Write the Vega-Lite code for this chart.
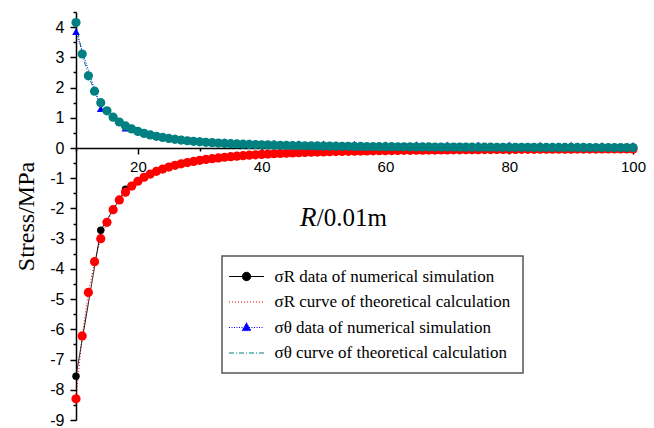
{
  "$schema": "https://vega.github.io/schema/vega-lite/v6.json",
  "width": 557,
  "height": 408,
  "autosize": "none",
  "padding": {"left": 76, "top": 12, "right": 21, "bottom": 8},
  "background": "white",
  "config": {"view": {"stroke": null}, "axis": {"labelOverlap": false}},
  "data": {"values": [
    {"s":"R_theo","x":10,"y":-8.3},{"s":"R_theo","x":11,"y":-6.22},{"s":"R_theo","x":12,"y":-4.78},{"s":"R_theo","x":13,"y":-3.76},{"s":"R_theo","x":14,"y":-3.0},{"s":"R_theo","x":15,"y":-2.46},{"s":"R_theo","x":16,"y":-2.04},{"s":"R_theo","x":17,"y":-1.72},{"s":"R_theo","x":18,"y":-1.46},{"s":"R_theo","x":19,"y":-1.26},{"s":"R_theo","x":20,"y":-1.1},
    {"s":"R_theo","x":21,"y":-0.968},{"s":"R_theo","x":22,"y":-0.862},{"s":"R_theo","x":23,"y":-0.772},{"s":"R_theo","x":24,"y":-0.696},{"s":"R_theo","x":25,"y":-0.63},{"s":"R_theo","x":26,"y":-0.573},{"s":"R_theo","x":27,"y":-0.524},{"s":"R_theo","x":28,"y":-0.481},{"s":"R_theo","x":29,"y":-0.443},{"s":"R_theo","x":30,"y":-0.409},
    {"s":"R_theo","x":31,"y":-0.379},{"s":"R_theo","x":32,"y":-0.352},{"s":"R_theo","x":33,"y":-0.328},{"s":"R_theo","x":34,"y":-0.306},{"s":"R_theo","x":35,"y":-0.286},{"s":"R_theo","x":36,"y":-0.269},{"s":"R_theo","x":37,"y":-0.253},{"s":"R_theo","x":38,"y":-0.238},{"s":"R_theo","x":39,"y":-0.224},{"s":"R_theo","x":40,"y":-0.212},
    {"s":"R_theo","x":41,"y":-0.2},{"s":"R_theo","x":42,"y":-0.19},{"s":"R_theo","x":43,"y":-0.18},{"s":"R_theo","x":44,"y":-0.171},{"s":"R_theo","x":45,"y":-0.163},{"s":"R_theo","x":46,"y":-0.155},{"s":"R_theo","x":47,"y":-0.148},{"s":"R_theo","x":48,"y":-0.141},{"s":"R_theo","x":49,"y":-0.135},{"s":"R_theo","x":50,"y":-0.129},
    {"s":"R_theo","x":51,"y":-0.124},{"s":"R_theo","x":52,"y":-0.119},{"s":"R_theo","x":53,"y":-0.114},{"s":"R_theo","x":54,"y":-0.109},{"s":"R_theo","x":55,"y":-0.105},{"s":"R_theo","x":56,"y":-0.101},{"s":"R_theo","x":57,"y":-0.097},{"s":"R_theo","x":58,"y":-0.094},{"s":"R_theo","x":59,"y":-0.09},{"s":"R_theo","x":60,"y":-0.087},
    {"s":"R_theo","x":61,"y":-0.084},{"s":"R_theo","x":62,"y":-0.081},{"s":"R_theo","x":63,"y":-0.078},{"s":"R_theo","x":64,"y":-0.076},{"s":"R_theo","x":65,"y":-0.073},{"s":"R_theo","x":66,"y":-0.071},{"s":"R_theo","x":67,"y":-0.069},{"s":"R_theo","x":68,"y":-0.067},{"s":"R_theo","x":69,"y":-0.065},{"s":"R_theo","x":70,"y":-0.063},
    {"s":"R_theo","x":71,"y":-0.061},{"s":"R_theo","x":72,"y":-0.059},{"s":"R_theo","x":73,"y":-0.057},{"s":"R_theo","x":74,"y":-0.056},{"s":"R_theo","x":75,"y":-0.054},{"s":"R_theo","x":76,"y":-0.053},{"s":"R_theo","x":77,"y":-0.051},{"s":"R_theo","x":78,"y":-0.05},{"s":"R_theo","x":79,"y":-0.048},{"s":"R_theo","x":80,"y":-0.047},
    {"s":"R_theo","x":81,"y":-0.046},{"s":"R_theo","x":82,"y":-0.045},{"s":"R_theo","x":83,"y":-0.044},{"s":"R_theo","x":84,"y":-0.043},{"s":"R_theo","x":85,"y":-0.041},{"s":"R_theo","x":86,"y":-0.04},{"s":"R_theo","x":87,"y":-0.039},{"s":"R_theo","x":88,"y":-0.039},{"s":"R_theo","x":89,"y":-0.038},{"s":"R_theo","x":90,"y":-0.037},
    {"s":"R_theo","x":91,"y":-0.036},{"s":"R_theo","x":92,"y":-0.035},{"s":"R_theo","x":93,"y":-0.034},{"s":"R_theo","x":94,"y":-0.034},{"s":"R_theo","x":95,"y":-0.033},{"s":"R_theo","x":96,"y":-0.032},{"s":"R_theo","x":97,"y":-0.031},{"s":"R_theo","x":98,"y":-0.031},{"s":"R_theo","x":99,"y":-0.03},{"s":"R_theo","x":100,"y":-0.029},
    {"s":"T_theo","x":10,"y":4.15},{"s":"T_theo","x":11,"y":3.11},{"s":"T_theo","x":12,"y":2.39},{"s":"T_theo","x":13,"y":1.88},{"s":"T_theo","x":14,"y":1.5},{"s":"T_theo","x":15,"y":1.23},{"s":"T_theo","x":16,"y":1.02},{"s":"T_theo","x":17,"y":0.86},{"s":"T_theo","x":18,"y":0.73},{"s":"T_theo","x":19,"y":0.63},{"s":"T_theo","x":20,"y":0.55},
    {"s":"T_theo","x":21,"y":0.484},{"s":"T_theo","x":22,"y":0.431},{"s":"T_theo","x":23,"y":0.386},{"s":"T_theo","x":24,"y":0.348},{"s":"T_theo","x":25,"y":0.315},{"s":"T_theo","x":26,"y":0.287},{"s":"T_theo","x":27,"y":0.262},{"s":"T_theo","x":28,"y":0.24},{"s":"T_theo","x":29,"y":0.221},{"s":"T_theo","x":30,"y":0.204},
    {"s":"T_theo","x":31,"y":0.189},{"s":"T_theo","x":32,"y":0.176},{"s":"T_theo","x":33,"y":0.164},{"s":"T_theo","x":34,"y":0.153},{"s":"T_theo","x":35,"y":0.143},{"s":"T_theo","x":36,"y":0.134},{"s":"T_theo","x":37,"y":0.126},{"s":"T_theo","x":38,"y":0.119},{"s":"T_theo","x":39,"y":0.112},{"s":"T_theo","x":40,"y":0.106},
    {"s":"T_theo","x":41,"y":0.1},{"s":"T_theo","x":42,"y":0.095},{"s":"T_theo","x":43,"y":0.09},{"s":"T_theo","x":44,"y":0.086},{"s":"T_theo","x":45,"y":0.081},{"s":"T_theo","x":46,"y":0.078},{"s":"T_theo","x":47,"y":0.074},{"s":"T_theo","x":48,"y":0.071},{"s":"T_theo","x":49,"y":0.068},{"s":"T_theo","x":50,"y":0.065},
    {"s":"T_theo","x":51,"y":0.062},{"s":"T_theo","x":52,"y":0.059},{"s":"T_theo","x":53,"y":0.057},{"s":"T_theo","x":54,"y":0.055},{"s":"T_theo","x":55,"y":0.053},{"s":"T_theo","x":56,"y":0.051},{"s":"T_theo","x":57,"y":0.049},{"s":"T_theo","x":58,"y":0.047},{"s":"T_theo","x":59,"y":0.045},{"s":"T_theo","x":60,"y":0.044},
    {"s":"T_theo","x":61,"y":0.042},{"s":"T_theo","x":62,"y":0.041},{"s":"T_theo","x":63,"y":0.039},{"s":"T_theo","x":64,"y":0.038},{"s":"T_theo","x":65,"y":0.037},{"s":"T_theo","x":66,"y":0.035},{"s":"T_theo","x":67,"y":0.034},{"s":"T_theo","x":68,"y":0.033},{"s":"T_theo","x":69,"y":0.032},{"s":"T_theo","x":70,"y":0.031},
    {"s":"T_theo","x":71,"y":0.03},{"s":"T_theo","x":72,"y":0.029},{"s":"T_theo","x":73,"y":0.029},{"s":"T_theo","x":74,"y":0.028},{"s":"T_theo","x":75,"y":0.027},{"s":"T_theo","x":76,"y":0.026},{"s":"T_theo","x":77,"y":0.026},{"s":"T_theo","x":78,"y":0.025},{"s":"T_theo","x":79,"y":0.024},{"s":"T_theo","x":80,"y":0.024},
    {"s":"T_theo","x":81,"y":0.023},{"s":"T_theo","x":82,"y":0.022},{"s":"T_theo","x":83,"y":0.022},{"s":"T_theo","x":84,"y":0.021},{"s":"T_theo","x":85,"y":0.021},{"s":"T_theo","x":86,"y":0.02},{"s":"T_theo","x":87,"y":0.02},{"s":"T_theo","x":88,"y":0.019},{"s":"T_theo","x":89,"y":0.019},{"s":"T_theo","x":90,"y":0.018},
    {"s":"T_theo","x":91,"y":0.018},{"s":"T_theo","x":92,"y":0.018},{"s":"T_theo","x":93,"y":0.017},{"s":"T_theo","x":94,"y":0.017},{"s":"T_theo","x":95,"y":0.016},{"s":"T_theo","x":96,"y":0.016},{"s":"T_theo","x":97,"y":0.016},{"s":"T_theo","x":98,"y":0.015},{"s":"T_theo","x":99,"y":0.015},{"s":"T_theo","x":100,"y":0.015},
    {"s":"R_num","x":10,"y":-7.55},{"s":"R_num","x":14,"y":-2.72},{"s":"R_num","x":18,"y":-1.36},{"s":"R_num","x":22,"y":-0.85},{"s":"R_num","x":26,"y":-0.57},{"s":"R_num","x":30,"y":-0.41},{"s":"R_num","x":34,"y":-0.31},{"s":"R_num","x":38,"y":-0.24},{"s":"R_num","x":42,"y":-0.19},{"s":"R_num","x":46,"y":-0.155},{"s":"R_num","x":50,"y":-0.13},
    {"s":"R_num","x":55,"y":-0.105},{"s":"R_num","x":60,"y":-0.087},{"s":"R_num","x":65,"y":-0.073},{"s":"R_num","x":70,"y":-0.063},{"s":"R_num","x":75,"y":-0.054},{"s":"R_num","x":80,"y":-0.047},{"s":"R_num","x":85,"y":-0.041},{"s":"R_num","x":90,"y":-0.037},{"s":"R_num","x":95,"y":-0.033},{"s":"R_num","x":100,"y":-0.029},
    {"s":"T_num","x":10,"y":3.85},{"s":"T_num","x":14,"y":1.3},{"s":"T_num","x":18,"y":0.66},{"s":"T_num","x":22,"y":0.47},{"s":"T_num","x":26,"y":0.34},{"s":"T_num","x":30,"y":0.26},{"s":"T_num","x":34,"y":0.21},{"s":"T_num","x":38,"y":0.18},{"s":"T_num","x":42,"y":0.16},{"s":"T_num","x":46,"y":0.145},{"s":"T_num","x":50,"y":0.135},
    {"s":"T_num","x":55,"y":0.125},{"s":"T_num","x":60,"y":0.115},{"s":"T_num","x":65,"y":0.11},{"s":"T_num","x":70,"y":0.105},{"s":"T_num","x":75,"y":0.1},{"s":"T_num","x":80,"y":0.1},{"s":"T_num","x":85,"y":0.095},{"s":"T_num","x":90,"y":0.095},{"s":"T_num","x":95,"y":0.09},{"s":"T_num","x":100,"y":0.09}
  ]},
  "resolve": {"axis": {"x": "independent", "y": "independent"}},
  "layer": [
    {
      "mark": {"type": "line", "strokeWidth": 1},
      "encoding": {
        "x": {"field": "x", "type": "quantitative",
          "scale": {"domain": [10, 100], "nice": false, "zero": false},
          "axis": {"orient": "bottom", "offset": -272, "title": null,
            "values": [20, 40, 60, 80, 100],
            "labelExpr": "'' + datum.value",
            "labelFont": "Liberation Sans", "labelFontSize": 15, "labelColor": "black",
            "labelOverlap": false, "labelFlush": false, "labelPadding": 5,
            "domainColor": "black", "domainWidth": 1.5, "tickColor": "black", "tickWidth": 1.5,
            "tickSize": 6, "grid": false}},
        "y": {"field": "y", "type": "quantitative",
          "scale": {"domain": [-9, 4.5], "nice": false, "zero": false},
          "axis": {"orient": "left", "title": "Stress/MPa", "titleFont": "Liberation Serif", "titleFontSize": 24,
            "titleFontWeight": "normal", "titleColor": "black", "titlePadding": 11,
            "values": [-9, -8, -7, -6, -5, -4, -3, -2, -1, 0, 1, 2, 3, 4],
            "labelExpr": "'' + datum.value",
            "labelFont": "Liberation Sans", "labelFontSize": 16, "labelColor": "black",
            "labelOverlap": false, "labelFlush": false, "labelPadding": 6,
            "domainColor": "black", "domainWidth": 1.5, "tickColor": "black", "tickWidth": 1.5,
            "tickSize": 6, "grid": false}},
        "color": {"field": "s", "type": "nominal",
          "scale": {"domain": ["R_num", "R_theo", "T_num", "T_theo"], "range": ["black", "red", "blue", "#008080"]},
          "legend": {"orient": "none", "legendX": 146, "legendY": 244, "title": null,
            "padding": 12, "strokeColor": "#555555", "fillColor": "white",
            "labelFont": "Liberation Serif", "labelFontSize": 17, "labelColor": "black", "labelLimit": 500,
            "labelExpr": "datum.value === 'R_num' ? 'σR data of numerical simulation' : datum.value === 'R_theo' ? 'σR curve of theoretical calculation' : datum.value === 'T_num' ? 'σθ data of numerical simulation' : 'σθ curve of theoretical calculation'",
            "symbolSize": 196, "symbolOffset": 4, "labelOffset": 19.5, "rowPadding": 7.5,
            "encode": {
              "symbols": {"update": {
                "shape": {"signal": "datum.value === 'R_num' ? 'M-2.5,0L2.5,0M0.6,0A0.6,0.6,0,1,1,-0.6,0A0.6,0.6,0,1,1,0.6,0Z' : datum.value === 'T_num' ? 'M-2.5,0L2.5,0M0,-0.7L0.65,0.45L-0.65,0.45Z' : 'M-2.5,0L2.5,0'"},
                "fill": {"scale": "color", "field": "value"},
                "stroke": {"scale": "color", "field": "value"},
                "strokeDash": {"scale": "strokeDash", "field": "value"},
                "strokeWidth": {"value": 1},
                "opacity": {"value": 1},
                "fillOpacity": {"value": 1},
                "strokeOpacity": {"value": 1}
              }},
              "legend": {"update": {"strokeWidth": {"value": 1.5}}}
            }}},
        "strokeDash": {"field": "s", "type": "nominal",
          "scale": {"domain": ["R_num", "R_theo", "T_num", "T_theo"], "range": [[1, 0], [1, 2], [1, 1.5], [5, 2, 1, 2]]},
          "legend": null}
      }
    },
    {
      "transform": [{"filter": "datum.s === 'R_num'"}],
      "mark": {"type": "point", "shape": "circle", "filled": true, "opacity": 1, "size": 55, "color": "black"},
      "encoding": {
        "x": {"field": "x", "type": "quantitative",
          "axis": {"orient": "bottom", "offset": -272, "title": null, "values": [10, 30, 50, 70, 90],
            "labels": false, "domain": false, "grid": false, "tickColor": "black", "tickWidth": 1.5, "tickSize": 3}},
        "y": {"field": "y", "type": "quantitative",
          "axis": {"orient": "left", "title": null,
            "values": [-8.5, -7.5, -6.5, -5.5, -4.5, -3.5, -2.5, -1.5, -0.5, 0.5, 1.5, 2.5, 3.5, 4.5],
            "labels": false, "domain": false, "grid": false, "tickColor": "black", "tickWidth": 1.5, "tickSize": 3}}
      }
    },
    {
      "transform": [{"filter": "datum.s === 'R_theo'"}],
      "mark": {"type": "point", "shape": "circle", "filled": true, "opacity": 1, "size": 85, "color": "red"},
      "encoding": {"x": {"field": "x", "type": "quantitative", "axis": null}, "y": {"field": "y", "type": "quantitative", "axis": null}}
    },
    {
      "transform": [{"filter": "datum.s === 'T_num'"}],
      "mark": {"type": "point", "shape": "triangle-up", "filled": true, "opacity": 1, "size": 60, "color": "blue"},
      "encoding": {"x": {"field": "x", "type": "quantitative", "axis": null}, "y": {"field": "y", "type": "quantitative", "axis": null}}
    },
    {
      "transform": [{"filter": "datum.s === 'T_theo'"}],
      "mark": {"type": "point", "shape": "circle", "filled": true, "opacity": 1, "size": 85, "color": "#008080"},
      "encoding": {"x": {"field": "x", "type": "quantitative", "axis": null}, "y": {"field": "y", "type": "quantitative", "axis": null}}
    },
    {
      "data": {"values": [{}]},
      "mark": {"type": "text", "text": "R", "font": "Liberation Serif", "fontSize": 27, "fontStyle": "italic", "align": "left", "baseline": "alphabetic", "color": "black"},
      "encoding": {"x": {"datum": 46.2, "axis": null}, "y": {"datum": -2.58, "axis": null}}
    },
    {
      "data": {"values": [{}]},
      "mark": {"type": "text", "text": "/0.01m", "font": "Liberation Serif", "fontSize": 25, "align": "left", "baseline": "alphabetic", "color": "black"},
      "encoding": {"x": {"datum": 48.9, "axis": null}, "y": {"datum": -2.58, "axis": null}}
    }
  ]
}
